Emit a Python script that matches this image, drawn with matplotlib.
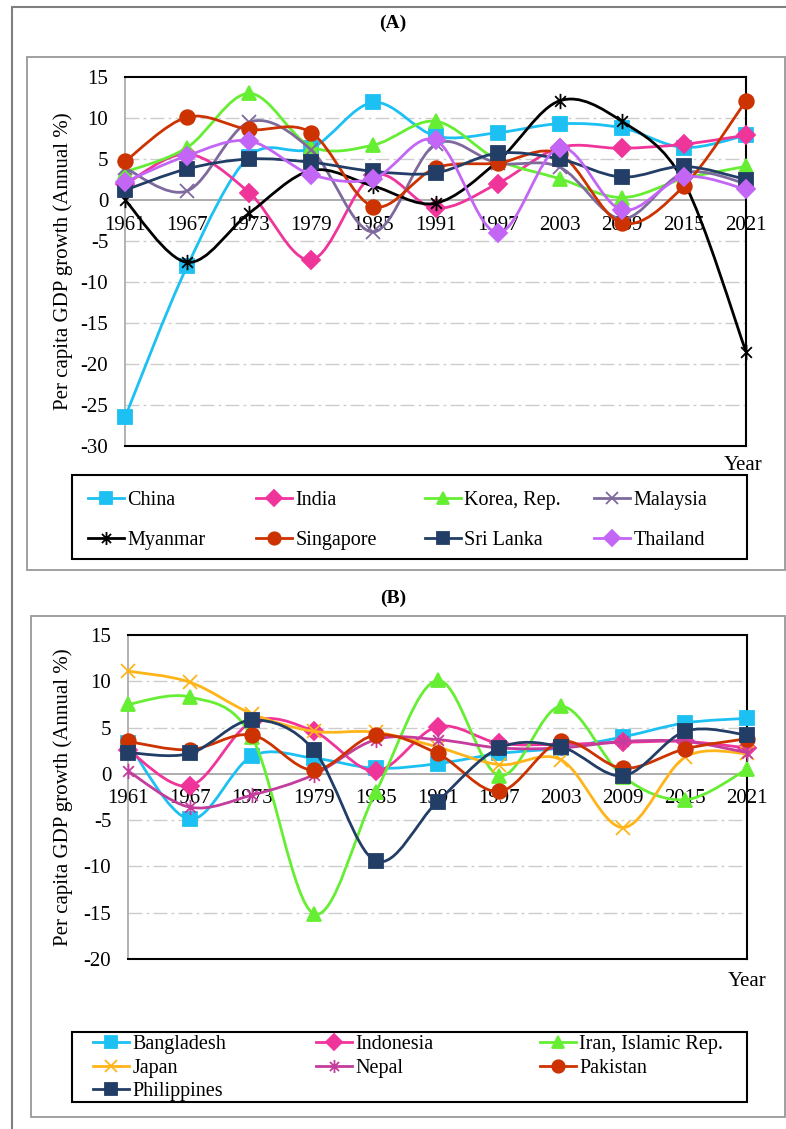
import numpy as np
import matplotlib
matplotlib.use("Agg")
import matplotlib.pyplot as plt
import matplotlib.transforms as mtransforms
from matplotlib.path import Path
from matplotlib.patches import PathPatch, Rectangle
from matplotlib.lines import Line2D

plt.rcParams["font.family"] = "Liberation Serif"
plt.rcParams["axes.unicode_minus"] = False

W, H = 786, 1129

# ── Data ─────────────────────────────────────────────────────────────────────
YEARS = ["1961", "1967", "1973", "1979", "1985", "1991",
         "1997", "2003", "2009", "2015", "2021"]

# Panel A
A_NAMES   = ["China", "India", "Korea, Rep.", "Malaysia",
             "Myanmar", "Singapore", "Sri Lanka", "Thailand"]
china     = [-26.5, -8.1, 5.3, 6.3, 11.9, 7.8, 8.2, 9.3, 8.8, 6.4, 7.9]
india     = [1.9, 5.6, 0.9, -7.3, 3.0, -1.0, 2.0, 6.4, 6.3, 6.8, 7.9]
korea     = [3.4, 6.4, 13.0, 6.5, 6.7, 9.6, 4.9, 2.6, 0.3, 2.6, 4.1]
malaysia  = [3.9, 1.1, 9.5, 6.1, -3.9, 6.8, 4.5, 4.0, -2.3, 3.3, 2.0]
myanmar   = [0.0, -7.6, -1.6, 3.6, 1.7, -0.4, 4.7, 12.1, 9.6, 2.2, -18.5]
singapore = [4.7, 10.1, 8.6, 8.2, -0.8, 3.9, 4.5, 5.6, -2.8, 1.7, 12.1]
sri_lanka = [1.2, 3.8, 5.0, 4.6, 3.5, 3.3, 5.7, 5.0, 2.8, 4.1, 2.5]
thailand  = [2.2, 5.4, 7.2, 3.1, 2.6, 7.3, -4.0, 6.4, -1.2, 2.8, 1.3]
A_VALUES  = [china, india, korea, malaysia, myanmar, singapore, sri_lanka, thailand]

# Panel B
B_NAMES     = ["Bangladesh", "Indonesia", "Iran, Islamic Rep.", "Japan",
               "Nepal", "Pakistan", "Philippines"]
bangladesh  = [3.3, -4.9, 1.9, 1.7, 0.6, 1.1, 2.2, 2.8, 4.0, 5.5, 6.0]
indonesia   = [2.6, -1.3, 5.6, 4.6, 0.3, 5.1, 3.3, 3.2, 3.4, 3.5, 2.8]
iran        = [7.5, 8.3, 4.0, -15.1, -2.0, 10.1, -0.2, 7.3, -0.3, -2.8, 0.5]
japan       = [11.1, 9.9, 6.5, 4.6, 4.5, 2.9, 1.0, 1.5, -5.8, 1.8, 2.2]
nepal       = [0.3, -3.6, -2.3, -0.1, 3.7, 3.7, 2.8, 2.8, 3.5, 3.5, 2.3]
pakistan    = [3.5, 2.6, 4.2, 0.4, 4.2, 2.2, -1.9, 3.5, 0.6, 2.7, 3.8]
philippines = [2.3, 2.2, 5.8, 2.6, -9.4, -3.0, 2.8, 2.9, -0.2, 4.6, 4.2]
B_VALUES    = [bangladesh, indonesia, iran, japan, nepal, pakistan, philippines]

# ── Styles ───────────────────────────────────────────────────────────────────
STAR = Path([(-0.7, -0.7), (0.7, 0.7), (-0.7, 0.7), (0.7, -0.7), (0, -1), (0, 1)],
            [Path.MOVETO, Path.LINETO] * 3)

CYAN, PINK, GREEN = "#1CC0F2", "#F0359A", "#66EE33"
RED, NAVY = "#CC3300", "#223D66"

A_STYLE = [(CYAN, "s", 10.5), (PINK, "D", 9), (GREEN, "^", 10.5),
           ("#7F6A9E", "x", 10), ("#000000", STAR, 11), (RED, "o", 10.5),
           (NAVY, "s", 10.5), ("#C466F5", "D", 9)]
B_STYLE = [(CYAN, "s", 10.5), (PINK, "D", 9), (GREEN, "^", 10.5),
           ("#FFB419", "x", 10), ("#C43C9C", STAR, 11), (RED, "o", 10.5),
           (NAVY, "s", 10.5)]


def smooth_path(xs, ys):
    """Excel-like smoothed line: Catmull-Rom converted to cubic Bezier."""
    pts = np.column_stack([xs, ys]).astype(float)
    n = len(pts)
    verts, codes = [pts[0]], [Path.MOVETO]
    for i in range(n - 1):
        p0, p1 = pts[max(i - 1, 0)], pts[i]
        p2, p3 = pts[i + 1], pts[min(i + 2, n - 1)]
        verts += [p1 + (p2 - p0) / 6, p2 - (p3 - p1) / 6, p2]
        codes += [Path.CURVE4] * 3
    return Path(verts, codes)


def fig_rect(fig, x0, y0, x1, y1, **kw):
    fig.add_artist(Rectangle((x0 / W, 1 - y1 / H), (x1 - x0) / W, (y1 - y0) / H,
                             transform=fig.transFigure, fill=False, **kw))


def draw_panel(fig, ax, names, values, styles, ylo, yhi):
    ax.set_xlim(0, 10)
    ax.set_ylim(ylo, yhi)
    ax.set_yticks(range(ylo, yhi + 1, 5))
    ax.set_xticks([])
    ax.tick_params(axis="y", length=0, pad=12, labelsize=15)
    for v in range(ylo + 5, yhi, 5):
        if v == 0:
            ax.axhline(0, color="#A6A6A6", lw=1.3, zorder=1)
        else:
            ax.axhline(v, color="#CCCCCC", lw=1.0, ls=(0, (10, 3, 2, 3)), zorder=0)
    for s in ["top", "right", "bottom"]:
        ax.spines[s].set_color("black")
        ax.spines[s].set_linewidth(1.5)
    ax.spines["left"].set_color("#A6A6A6")
    ax.spines["left"].set_linewidth(1.2)

    x = np.arange(len(YEARS))
    off = mtransforms.offset_copy(ax.transData, fig=fig, y=-25, units="dots")
    for i, yr in enumerate(YEARS):
        ax.text(i, 0, yr, transform=off, ha="center", va="center", fontsize=15, zorder=2)

    handles = []
    for k, (name, vals) in enumerate(zip(names, values)):
        col, mk, ms = styles[k]
        ax.add_patch(PathPatch(smooth_path(x, vals), fill=False, ec=col, lw=2,
                               zorder=3 + k, clip_on=False))
        mfc = "none" if mk in ("x", STAR) else col
        ax.plot(x, vals, ls="none", marker=mk, ms=ms, mfc=mfc, mec=col, mew=1.3,
                zorder=3 + k, clip_on=False)
        handles.append(Line2D([], [], color=col, lw=2, marker=mk, ms=ms * 0.85,
                              mfc=mfc, mec=col, mew=1.3, label=name))
    return handles


def column_legends(fig, handles, ncol, xs, top, spacing):
    for c in range(ncol):
        hs = handles[c::ncol]
        fig.legend(handles=hs, labels=[h.get_label() for h in hs], loc="upper left",
                   bbox_to_anchor=(xs[c] / W, 1 - top / H), frameon=False,
                   borderpad=0, borderaxespad=0, handlelength=1.8,
                   handletextpad=0.15, labelspacing=spacing, fontsize=14.5)


fig = plt.figure(figsize=(W / 100, H / 100), dpi=100)

# frames
fig_rect(fig, 12, 7, 795, 1140, ec="#808080", lw=1.5)
fig_rect(fig, 27, 57, 785, 570, ec="#999999", lw=1.3)
fig_rect(fig, 31, 616, 785, 1117, ec="#999999", lw=1.3)

# ── Panel A ──────────────────────────────────────────────────────────────────
axA = fig.add_axes([125 / W, 1 - 446 / H, (746 - 125) / W, (446 - 77) / H])
hA = draw_panel(fig, axA, A_NAMES, A_VALUES, A_STYLE, -30, 15)
fig.text(393 / W, 1 - 23 / H, "(A)", ha="center", va="center", fontsize=14, fontweight="bold")
fig.text(63 / W, 1 - 261 / H, "Per capita GDP growth (Annual %)", rotation=90,
         ha="center", va="center", fontsize=15)
fig.text(743 / W, 1 - 466 / H, "Year", ha="center", va="center", fontsize=15)
fig_rect(fig, 72, 475, 747, 559, ec="black", lw=1.5)
column_legends(fig, hA, 4, [88, 256, 425, 594], 491, 1.05)

# ── Panel B ──────────────────────────────────────────────────────────────────
axB = fig.add_axes([128 / W, 1 - 959 / H, (747 - 128) / W, (959 - 635) / H])
hB = draw_panel(fig, axB, B_NAMES, B_VALUES, B_STYLE, -20, 15)
fig.text(393 / W, 1 - 598 / H, "(B)", ha="center", va="center", fontsize=14, fontweight="bold")
fig.text(63 / W, 1 - 797 / H, "Per capita GDP growth (Annual %)", rotation=90,
         ha="center", va="center", fontsize=15)
fig.text(747 / W, 1 - 982 / H, "Year", ha="center", va="center", fontsize=15)
fig_rect(fig, 72, 1032, 747, 1102, ec="black", lw=1.5)
column_legends(fig, hB, 3, [93, 316, 540], 1035, 0.22)

fig.savefig("out.png", dpi=100)
